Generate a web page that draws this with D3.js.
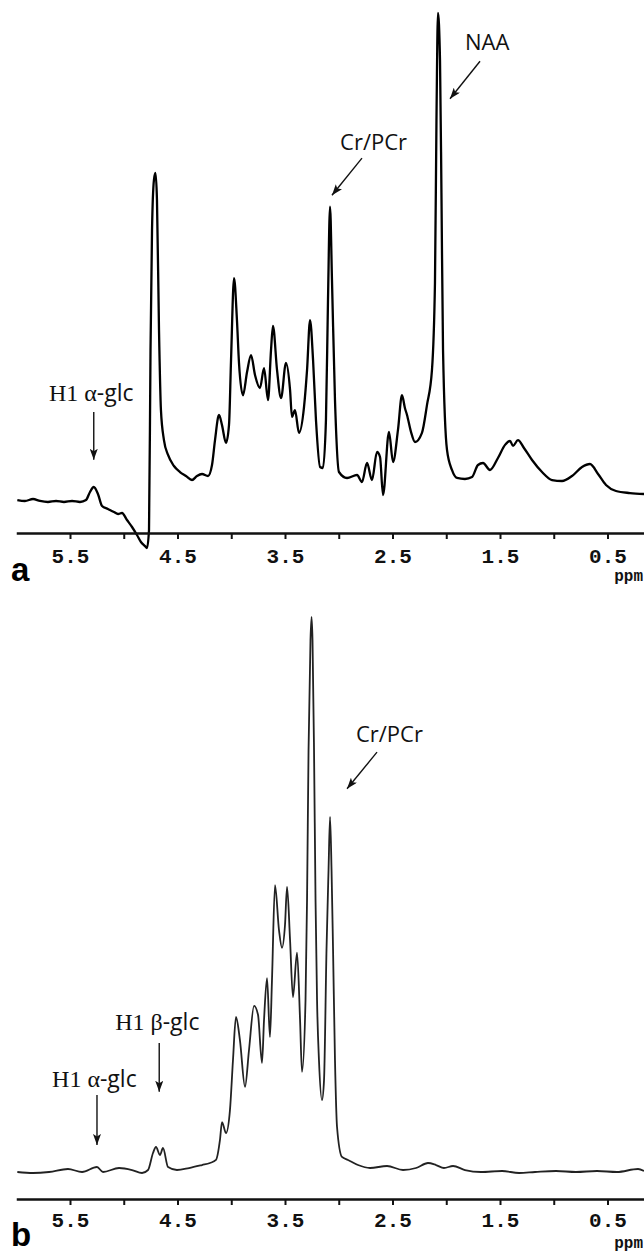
<!DOCTYPE html>
<html>
<head>
<meta charset="utf-8">
<script src="https://cdn.jsdelivr.net/npm/d3@7"></script>
<style>
  body { margin: 0; background: #fff; }
  svg { display: block; }
</style>
</head>
<body>
<svg id="chart" width="644" height="1254"></svg>
<script>
// ---- Spectrum a: chemical shift (ppm) and signal intensity (NAA peak = 100)
const ppmA = [5.99,5.919,5.844,5.779,5.705,5.630,5.556,5.481,5.407,5.351,5.314,5.279,5.240,5.202,5.147,5.091,5.053,5.016,4.970,4.923,4.877,4.840,4.802,4.784,4.765,4.751,4.737,4.719,4.705,4.691,4.672,4.654,4.626,4.588,4.533,4.477,4.421,4.365,4.319,4.272,4.216,4.179,4.151,4.114,4.086,4.049,4.021,4.002,3.974,3.947,3.928,3.891,3.853,3.816,3.779,3.733,3.695,3.658,3.630,3.612,3.574,3.537,3.491,3.453,3.435,3.407,3.370,3.323,3.295,3.267,3.239,3.212,3.174,3.147,3.119,3.100,3.081,3.063,3.035,2.998,2.923,2.830,2.784,2.737,2.691,2.644,2.616,2.588,2.533,2.495,2.449,2.412,2.384,2.365,2.328,2.291,2.226,2.179,2.133,2.105,2.091,2.077,2.058,2.044,2.030,1.993,1.947,1.900,1.826,1.760,1.705,1.658,1.593,1.519,1.453,1.407,1.379,1.333,1.277,1.202,1.109,1.016,0.923,0.830,0.737,0.663,0.588,0.514,0.421,0.291,0.160];
const intA = [-1.04,-1.24,-0.83,-1.24,-1.45,-1.24,-1.45,-1.24,-1.45,-1.04,0.62,1.66,0.21,-2.28,-2.90,-3.53,-3.94,-3.73,-5.19,-6.64,-8.30,-9.75,-10.6,-11.0,-7.26,30.1,55.0,65.4,66.8,61.2,34.2,17.6,11.4,8.30,6.02,4.77,3.94,3.11,3.94,4.36,3.94,6.22,11.4,16.6,14.5,10.8,14.5,28.0,45.0,36.3,27.4,20.7,25.5,29.0,24.9,22.2,26.3,19.7,30.1,35.1,25.9,20.1,27.4,21.8,16.2,17.6,12.9,18.3,25.9,36.3,28.0,15.6,5.81,5.60,15.6,40.5,59.8,44.6,19.7,4.77,3.53,4.15,2.70,6.64,3.11,8.92,7.88,0,13.1,6.85,13.5,20.7,18.0,16.6,13.1,11.0,12.9,18.7,25.9,44.0,77.8,100,90.2,61.2,30.1,9.34,5.19,3.53,3.32,3.73,6.22,6.64,5.19,7.68,10.4,11.2,10.2,11.4,9.75,7.26,4.77,3.11,2.90,3.94,5.81,6.43,4.36,2.07,0.83,0.41,0.21];

// ---- Spectrum b: chemical shift (ppm) and signal intensity (tallest peak = 100)
const ppmB = [5.99,5.844,5.695,5.519,5.388,5.249,5.193,5.044,4.923,4.830,4.774,4.728,4.700,4.663,4.635,4.588,4.505,4.393,4.272,4.198,4.142,4.105,4.086,4.049,4.012,3.984,3.956,3.919,3.872,3.835,3.788,3.751,3.714,3.695,3.667,3.640,3.621,3.593,3.556,3.528,3.500,3.481,3.453,3.426,3.388,3.360,3.342,3.309,3.295,3.281,3.263,3.253,3.244,3.230,3.216,3.202,3.184,3.156,3.137,3.114,3.095,3.081,3.067,3.053,3.035,3.016,2.970,2.914,2.821,2.709,2.551,2.402,2.281,2.170,2.095,2.021,1.937,1.826,1.677,1.481,1.323,1.174,0.979,0.793,0.598,0.412,0.216,0.160];
const intB = [-0.18,-0.36,-0.18,0.36,-0.18,0.72,-0.18,0.54,0.18,-0.36,0.18,3.25,4.33,2.89,4.15,0.72,0.18,0.54,1.08,1.44,1.99,5.60,8.84,6.86,11.0,20.0,27.8,23.6,15.2,21.8,29.8,28.2,19.5,27.3,34.8,24.2,34.5,51.6,43.5,40.3,44.4,51.3,41.7,31.4,39.4,27.3,17.9,30.9,48.9,76.0,95.8,100,95.8,76.0,48.9,30.9,20.0,12.8,16.4,39.9,54.3,63.9,54.3,39.9,20.0,7.94,2.53,1.99,1.08,0.54,0.90,0.18,0.54,1.44,1.08,0.54,0.90,0.18,-0.18,0,-0.36,-0.18,0,-0.18,0,-0.18,0.36,0];

// ---- Axis ticks (every 0.5 ppm, labelled every 1 ppm)
const tickValues = [5.5,5.0,4.5,4.0,3.5,3.0,2.5,2.0,1.5,1.0,0.5];
const tickLabels = ["5.5","4.5","3.5","2.5","1.5","0.5"];
const axisUnit = "ppm";
const panelLetters = ["a","b"];

// ---- Peak annotations: text anchor and arrow (tail -> head), in ppm / intensity
const notesA = [
  { text: ["NAA"], ppm: 1.826, val: 92.3, arrow: [[1.686, 90.0], [1.965, 82.2]] },
  { text: ["Cr/PCr"], ppm: 2.988, val: 71.6, arrow: [[2.784, 69.9], [3.063, 62.2]] },
  { text: ["H1 \u03b1", "-glc"], ppm: 5.696, val: 19.5, arrow: [[5.279, 17.2], [5.279, 7.3]] }
];
const notesB = [
  { text: ["Cr/PCr"], ppm: 2.840, val: 77.4, arrow: [[2.644, 75.6], [2.923, 69.0]] },
  { text: ["H1 \u03b2", "-glc"], ppm: 5.080, val: 25.5, arrow: [[4.670, 23.1], [4.670, 14.3]] },
  { text: ["H1 \u03b1", "-glc"], ppm: 5.667, val: 15.2, arrow: [[5.249, 13.7], [5.249, 4.7]] }
];

const svg = d3.select("#chart");

// Shared chemical-shift scale (reversed, as usual for NMR)
const x = d3.scaleLinear().domain([6.0, 0.0]).range([16.25, 661.25]);

// Arrowhead marker
svg.append("defs").append("marker")
  .attr("id", "head")
  .attr("viewBox", "0 0 11 8")
  .attr("refX", 11).attr("refY", 4)
  .attr("markerWidth", 11).attr("markerHeight", 8)
  .attr("markerUnits", "userSpaceOnUse")
  .attr("orient", "auto")
  .append("path").attr("d", "M0,0 L11,4 L0,8 L2.5,4 Z").attr("fill", "#111");

function drawPanel(cfg) {
  const g = svg.append("g");
  const y = d3.scaleLinear().domain([0, 100]).range(cfg.yRange);
  const pts = cfg.ppm.map((p, i) => [p, cfg.vals[i]]);

  const line = d3.line()
    .x(d => x(d[0]))
    .y(d => y(d[1]))
    .curve(d3.curveMonotoneX);

  g.append("path")
    .datum(pts)
    .attr("fill", "none")
    .attr("stroke", cfg.color)
    .attr("stroke-width", cfg.width)
    .attr("stroke-linejoin", "round")
    .attr("d", line);

  // ppm axis
  const axis = d3.axisBottom(x)
    .tickValues(tickValues)
    .tickSizeInner(6)
    .tickSizeOuter(0)
    .tickPadding(cfg.pad)
    .tickFormat(d => {
      const s = d3.format(".1f")(d);
      return tickLabels.includes(s) ? s : "";
    });

  const ax = g.append("g")
    .attr("transform", `translate(0,${cfg.axisY})`)
    .call(axis);
  ax.select(".domain").attr("stroke", "#111").attr("stroke-width", 2.4);
  ax.selectAll(".tick line").attr("stroke", "#111").attr("stroke-width", 2);
  ax.selectAll(".tick text")
    .attr("fill", "#111")
    .style("font-family", "'Liberation Mono', 'DejaVu Sans Mono', monospace")
    .style("font-size", "21px")
    .style("font-weight", "bold");

  g.append("text")
    .attr("x", 643).attr("y", cfg.unitY)
    .attr("text-anchor", "end")
    .style("font-family", "'Liberation Mono', 'DejaVu Sans Mono', monospace")
    .style("font-size", "16px")
    .style("font-weight", "bold")
    .attr("fill", "#111")
    .text(axisUnit);

  g.append("text")
    .attr("x", 11).attr("y", cfg.letterY)
    .style("font-family", "'Liberation Sans', Arial, sans-serif")
    .style("font-size", "33px")
    .style("font-weight", "bold")
    .attr("fill", "#000")
    .text(cfg.letter);

  // Annotations
  cfg.notes.forEach(n => {
    const t = g.append("text")
      .attr("x", x(n.ppm)).attr("y", y(n.val))
      .attr("fill", "#111");
    if (n.text.length === 1) {
      t.style("font-family", "'Open Sans', 'Noto Sans', sans-serif")
        .style("font-size", "22px")
        .text(n.text[0]);
    } else {
      t.append("tspan")
        .style("font-family", "'Liberation Serif', 'DejaVu Serif', serif")
        .style("font-size", "24px")
        .text(n.text[0]);
      t.append("tspan")
        .style("font-family", "'Open Sans', 'Noto Sans', sans-serif")
        .style("font-size", "23px")
        .text(n.text[1]);
    }
    g.append("line")
      .attr("x1", x(n.arrow[0][0])).attr("y1", y(n.arrow[0][1]))
      .attr("x2", x(n.arrow[1][0])).attr("y2", y(n.arrow[1][1]))
      .attr("stroke", "#111")
      .attr("stroke-width", 1.4)
      .attr("marker-end", "url(#head)");
  });
}

drawPanel({
  ppm: ppmA, vals: intA, yRange: [495, 13], axisY: 533, pad: 9, letterY: 581, unitY: 581,
  letter: panelLetters[0], notes: notesA, color: "#000", width: 2.3
});

drawPanel({
  ppm: ppmB, vals: intB, yRange: [1171, 617], axisY: 1199, pad: 7, letterY: 1246, unitY: 1248,
  letter: panelLetters[1], notes: notesB, color: "#222", width: 1.8
});
</script>
</body>
</html>
